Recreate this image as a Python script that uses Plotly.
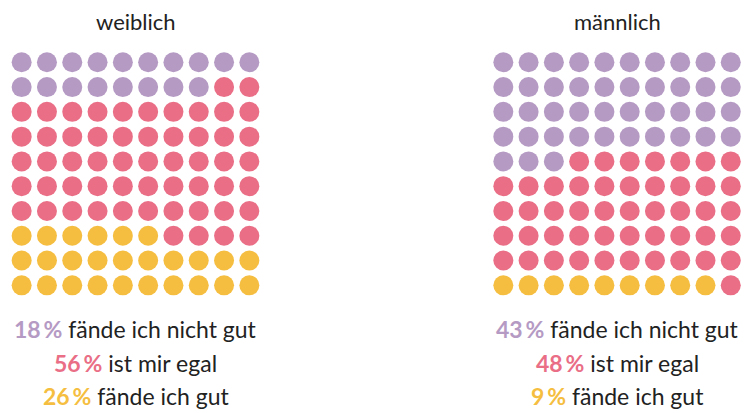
import plotly.graph_objects as go

# ---- data ----
panels = ["weiblich", "männlich"]
categories = ["fände ich nicht gut", "ist mir egal", "fände ich gut"]
weiblich = [18, 56, 26]
maennlich = [43, 48, 9]
colors = ["#B59AC4", "#E96E86", "#F5BE40"]

values = [weiblich, maennlich]
W, H = 744, 413
FONT = "Lato"
TEXT = "#222222"


def grid_cells(vals):
    """Return list of (col, row, category) for a 10x10 waffle."""
    cells = []
    for r in range(10):
        for c in range(10):
            top_idx = r * 10 + c
            bot_idx = (9 - r) * 10 + c
            if top_idx < vals[0]:
                k = 0
            elif bot_idx < vals[2]:
                k = 2
            else:
                k = 1
            cells.append((c, r, k))
    return cells


fig = go.Figure()

# pixel geometry of the two grids
x_domains = [[9.0 / W, 262.0 / W], [490.7 / W, 743.4 / W]]
y_domain = [1 - 297.7 / H, 1 - 49.9 / H]

for p, vals in enumerate(values):
    cells = grid_cells(vals)
    xa = "x" if p == 0 else "x2"
    ya = "y" if p == 0 else "y2"
    for k in range(3):
        xs = [c for c, r, kk in cells if kk == k]
        ys = [r for c, r, kk in cells if kk == k]
        fig.add_trace(go.Scatter(
            x=xs, y=ys, mode="markers", xaxis=xa, yaxis=ya,
            marker=dict(size=20, color=colors[k], line=dict(width=0)),
            hoverinfo="skip", showlegend=False,
        ))

axis_common = dict(showgrid=False, zeroline=False, showticklabels=False,
                   showline=False, ticks="", fixedrange=True)
fig.update_layout(
    xaxis=dict(domain=x_domains[0], range=[-0.5, 9.5], **axis_common),
    xaxis2=dict(domain=x_domains[1], range=[-0.5, 9.5], anchor="y2", **axis_common),
    yaxis=dict(domain=y_domain, range=[9.5, -0.5], **axis_common),
    yaxis2=dict(domain=y_domain, range=[9.5, -0.5], anchor="x2", **axis_common),
)

annotations = []
line_y = [329, 363, 396]
for p, vals in enumerate(values):
    xr = "x" if p == 0 else "x2"
    annotations.append(dict(
        text=panels[p], x=4.5, xref=xr, y=1 - 21.5 / H, yref="paper",
        xanchor="center", yanchor="middle", showarrow=False,
        font=dict(family=FONT, size=22, color=TEXT),
    ))
    for k in range(3):
        txt = (f"<b><span style='color:{colors[k]}'>{vals[k]}\u2009%</span></b> "
               f"{categories[k]}")
        annotations.append(dict(
            text=txt, x=4.5, xref=xr, y=1 - line_y[k] / H, yref="paper",
            xanchor="center", yanchor="middle", showarrow=False,
            font=dict(family=FONT, size=23, color=TEXT),
        ))

fig.update_layout(
    annotations=annotations,
    width=W, height=H,
    margin=dict(l=0, r=0, t=0, b=0),
    paper_bgcolor="white", plot_bgcolor="white",
)

fig.write_html("out.html",
               config={"displayModeBar": False, "staticPlot": True},
               post_script="document.body.style.margin='0';document.body.style.overflow='hidden';")
